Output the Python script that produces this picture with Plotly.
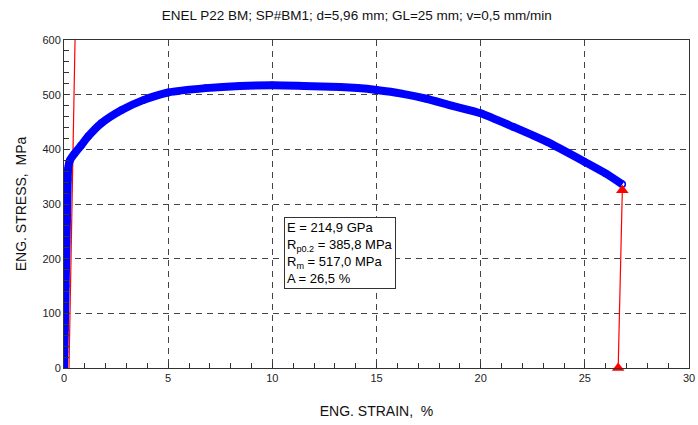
import plotly.graph_objects as go

# Blue test curve
strain = [0.0, 0.02, 0.04, 0.06, 0.08, 0.10, 0.12, 0.14, 0.16, 0.18, 0.20, 0.25, 0.30, 0.5, 0.8,
          1.17, 1.8, 2.77, 3.8, 5.0, 6.8, 8.45, 10.0, 11.5, 13.25, 14.1, 15.0, 16.2, 17.34, 18.6,
          20.0, 21.57, 23.17, 25.0, 26.0, 26.8]
stress = [0, 30, 70, 110, 150, 190, 230, 270, 310, 345, 365, 376, 381, 392, 406,
          424, 448, 472, 490, 504, 512, 516, 517, 516, 514, 512, 508.5, 502, 493, 480,
          466, 441, 414, 377, 356, 336]

# Red 0.2% offset line
offset_strain = [0.24, 0.53]
offset_stress = [0, 600]

# Red fracture markers
frac_strain = [26.8, 26.6]
frac_stress = [325, 0]

title = "ENEL P22 BM; SP#BM1; d=5,96 mm; GL=25 mm; v=0,5 mm/min"
info = "E = 214,9 GPa<br>R<sub>p0.2</sub> = 385,8 MPa<br>R<sub>m</sub> = 517,0 MPa<br>A = 26,5 %"

FONT = "Liberation Sans, Arial"

fig = go.Figure()
fig.add_trace(go.Scatter(x=offset_strain, y=offset_stress, mode="lines",
                         line=dict(color="red", width=1.2), showlegend=False))
fig.add_trace(go.Scatter(x=strain, y=stress, mode="lines+markers",
                         line=dict(color="#0000ff", width=8, shape="spline", smoothing=0.6),
                         marker=dict(symbol="circle-open", size=6, color="#0000ff",
                                     line=dict(width=1.5, color="#0000ff")),
                         showlegend=False))
fig.add_trace(go.Scatter(x=frac_strain, y=frac_stress, mode="lines+markers",
                         line=dict(color="red", width=1.2),
                         marker=dict(symbol="triangle-up", size=11, color="red"),
                         showlegend=False, cliponaxis=False))

fig.add_annotation(x=10.55, y=276, xref="x", yref="y", xanchor="left", yanchor="top",
                   text=info, showarrow=False, align="left",
                   font=dict(family=FONT, size=13, color="black"),
                   bgcolor="white", bordercolor="#333", borderwidth=1, borderpad=2)

axis_common = dict(showline=True, linecolor="#333", linewidth=1, mirror=True,
                   showgrid=True, gridcolor="#444", gridwidth=1, griddash="6px,5px",
                   zeroline=False, ticks="inside", ticklen=5, tickcolor="#333",
                   tickfont=dict(family=FONT, size=11, color="#222"))

fig.update_xaxes(range=[0, 30], dtick=5,
                 minor=dict(dtick=1, ticks="inside", ticklen=5, tickcolor="#333", showgrid=False),
                 title=dict(text="ENG. STRAIN,  %", font=dict(family=FONT, size=14, color="#111"),
                            standoff=22),
                 **axis_common)
fig.update_yaxes(range=[0, 600], dtick=100,
                 minor=dict(dtick=20, ticks="inside", ticklen=5, tickcolor="#333", showgrid=False),
                 title=dict(text="ENG. STRESS,  MPa", font=dict(family=FONT, size=14, color="#111"),
                            standoff=12),
                 **axis_common)

fig.update_layout(
    width=698, height=425,
    margin=dict(l=64, r=9, t=40, b=57, autoexpand=False),
    paper_bgcolor="white", plot_bgcolor="white",
    title=dict(text=title, x=0.511, xanchor="center", y=0.965, yanchor="middle",
               font=dict(family=FONT, size=13.5, color="#111")),
)

fig.write_html("out.html", config={"displayModeBar": False},
               post_script="document.body.style.margin='0px';document.body.style.overflow='hidden';")
